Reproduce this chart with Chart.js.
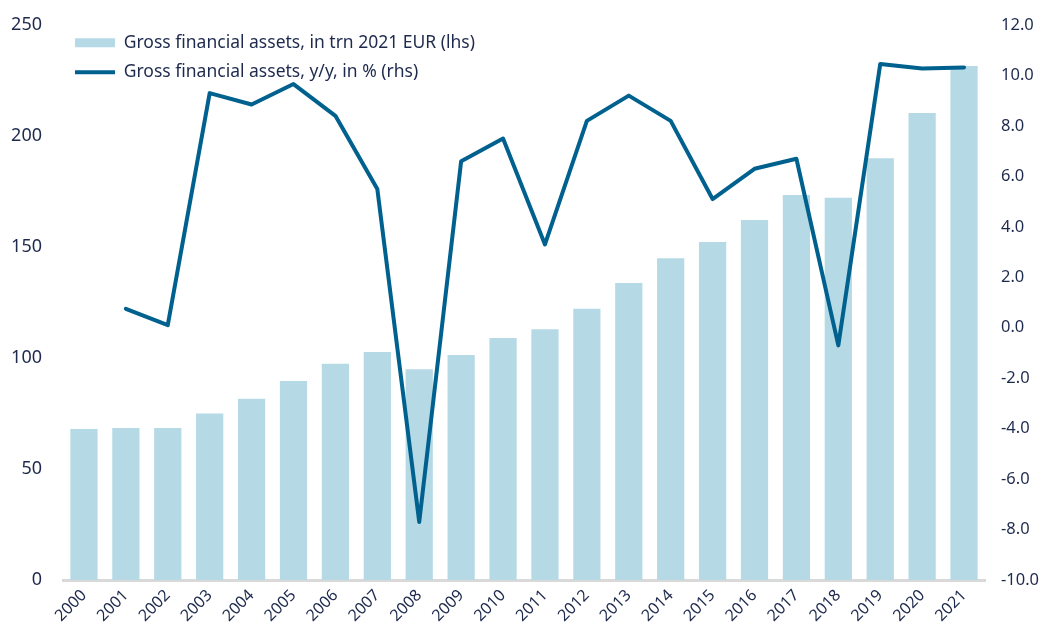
<!DOCTYPE html>
<html lang="en">
<head>
  <meta charset="UTF-8" />
  <title>Gross financial assets</title>
  <script src="https://cdn.jsdelivr.net/npm/chart.js"></script>
  <style>
    html, body { margin: 0; padding: 0; background: #fff; }
    #wrap { width: 1040px; height: 635px; }
  </style>
</head>
<body>
  <div id="wrap"><canvas id="gfaChart"></canvas></div>

  <script>
    // data
    const years = ['2000', '2001', '2002', '2003', '2004', '2005', '2006', '2007', '2008', '2009', '2010',
                   '2011', '2012', '2013', '2014', '2015', '2016', '2017', '2018', '2019', '2020', '2021'];
    const assetsTrn = [68, 68.5, 68.5, 75, 81.7, 89.6, 97.4, 102.7, 94.9, 101.4, 109,
                       112.9, 122.2, 133.8, 144.9, 152.3, 162.2, 173.4, 172.2, 190, 210.4, 231.5];
    const growthPct = [null, 0.75, 0.1, 9.3, 8.85, 9.66, 8.4, 5.5, -7.7, 6.6, 7.5,
                       3.3, 8.2, 9.2, 8.2, 5.1, 6.3, 6.7, -0.7, 10.45, 10.28, 10.32];
    const barLabel = 'Gross financial assets, in trn 2021 EUR (lhs)';
    const lineLabel = 'Gross financial assets, y/y, in % (rhs)';

    const textColor = '#1e2a4d';
    const fontFamily = '"Noto Sans", Lato, sans-serif';

    // fixed axis box sizes so the plot sits where it does in the original
    const fitY = (w) => (s) => { s.width = w; s.paddingTop = 0; s.paddingBottom = 0; };

    const ctx = document.getElementById('gfaChart').getContext('2d');
    new Chart(ctx, {
      data: {
        labels: years,
        datasets: [
          {
            type: 'line',
            label: lineLabel,
            data: growthPct,
            yAxisID: 'yRight',
            borderColor: '#00618f',
            backgroundColor: '#00618f',
            borderWidth: 4,
            borderJoinStyle: 'round',
            borderCapStyle: 'round',
            pointRadius: 0,
            pointHoverRadius: 0,
            pointBorderWidth: 4,
            pointStyle: 'line',
            tension: 0,
            order: 0
          },
          {
            type: 'bar',
            label: barLabel,
            data: assetsTrn,
            yAxisID: 'yLeft',
            backgroundColor: '#b6dae5',
            borderWidth: 0,
            pointStyle: 'rect',
            barPercentage: 0.65,
            categoryPercentage: 1,
            order: 1
          }
        ]
      },
      options: {
        responsive: true,
        maintainAspectRatio: false,
        animation: false,
        layout: { padding: { left: 0, right: 0, top: 25, bottom: 0 } },
        plugins: {
          tooltip: { enabled: false },
          legend: {
            position: 'chartArea',
            align: 'start',
            reverse: true,
            title: {
              // empty spacer title to push the legend rows down into the plot
              display: true,
              text: ' ',
              font: { size: 10, lineHeight: 1 },
              padding: { top: 12, bottom: 0 }
            },
            labels: {
              usePointStyle: true,
              pointStyleWidth: 40,
              boxWidth: 40,
              boxHeight: 9,
              padding: 12,
              color: textColor,
              font: { family: fontFamily, size: 17.5 }
            }
          }
        },
        scales: {
          x: {
            grid: { display: false, drawTicks: false },
            border: { display: true, color: '#d9d9d9', width: 3 },
            ticks: {
              color: textColor,
              font: { family: fontFamily, size: 16 },
              maxRotation: 45,
              minRotation: 45,
              padding: 6
            },
            afterFit: (s) => { s.height = 55; s.paddingLeft = 0; s.paddingRight = 0; }
          },
          yLeft: {
            position: 'left',
            min: 0,
            max: 250,
            grid: { display: false, drawTicks: false },
            border: { display: false },
            ticks: {
              stepSize: 50,
              color: textColor,
              padding: 21,
              font: { family: fontFamily, size: 18 }
            },
            afterFit: fitY(63)
          },
          yRight: {
            position: 'right',
            min: -10,
            max: 12,
            grid: { display: false, drawTicks: false },
            border: { display: false },
            ticks: {
              stepSize: 2,
              color: textColor,
              padding: 16,
              font: { family: fontFamily, size: 16.5 },
              callback: (v) => v.toFixed(1)
            },
            afterFit: fitY(55)
          }
        }
      }
    });
  </script>
</body>
</html>
